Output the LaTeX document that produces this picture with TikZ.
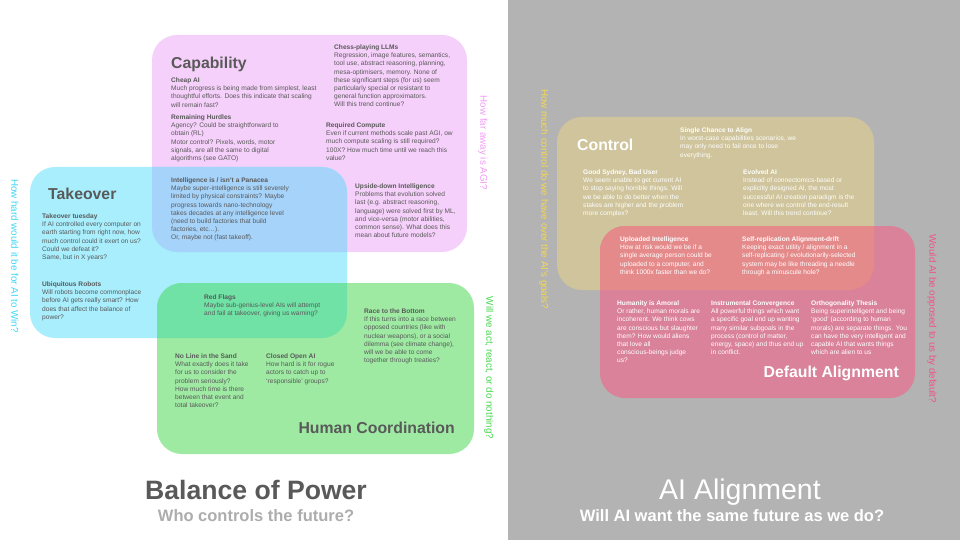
\documentclass[tikz,border=0pt]{standalone}
\usepackage{fontspec}
\setmainfont{Liberation Sans}
\definecolor{capc}{HTML}{F5D0FA}
\definecolor{tkc}{HTML}{A8EEFD}
\definecolor{tkcap}{HTML}{A6D3FA}
\definecolor{hcc}{HTML}{9EEAA3}
\definecolor{tkhc}{HTML}{70E2A6}
\definecolor{bgright}{HTML}{B3B3B3}
\definecolor{ctl}{HTML}{CFC49B}
\definecolor{dal}{HTML}{D9829A}
\definecolor{ctldal}{HTML}{E58A8A}
\definecolor{txt}{HTML}{595959}
\definecolor{qpink}{HTML}{F09CF4}
\definecolor{qcyan}{HTML}{3CD7F5}
\definecolor{qgreen}{HTML}{48D84E}
\definecolor{qyellow}{HTML}{F6D84A}
\definecolor{qred}{HTML}{F0528A}
\definecolor{subgray}{HTML}{ADADAD}
\begin{document}
\begin{tikzpicture}[x=1pt,y=-1pt,
  blk/.style={anchor=north west, align=left, inner sep=0pt, font=\fontsize{6.6}{8.15}\selectfont, text=txt},
  wblk/.style={blk, text=white},
  ttl/.style={inner sep=0pt, font=\fontsize{15.8}{18}\selectfont\bfseries, text=txt},
  wttl/.style={ttl, text=white},
  qlab/.style={rotate=-90, inner sep=0pt, font=\fontsize{9.8}{11}\selectfont},
  box/.style={rounded corners=25pt}]
\useasboundingbox (0,0) rectangle (960,540);
\fill[white] (0,0) rectangle (508,540);
\fill[bgright] (508,0) rectangle (960,540);
% left boxes
\fill[capc, box] (152,35) rectangle (467,252);
\fill[tkc, box] (30,167) rectangle (347,338);
\fill[hcc, box] (157,283) rectangle (474,454);
\begin{scope}
  \clip[box] (152,35) rectangle (467,252);
  \fill[tkcap, box] (30,167) rectangle (347,338);
\end{scope}
\begin{scope}
  \clip[box] (157,283) rectangle (474,454);
  \fill[tkhc, box] (30,167) rectangle (347,338);
\end{scope}
% right boxes
\fill[ctl, box] (557,117) rectangle (874,290);
\fill[dal, box] (600,226) rectangle (915,398);
\begin{scope}
  \clip[box] (557,117) rectangle (874,290);
  \fill[ctldal, box] (600,226) rectangle (915,398);
\end{scope}
% titles
\node[ttl, anchor=base west] (tcap) at (171,68.6) {Capability};
\node[ttl, anchor=base west] (ttk) at (48,199.6) {Takeover};
\node[ttl, anchor=base east] (thc) at (455,433.6) {Human Coordination};
\node[wttl, anchor=base west] (tctl) at (577,150.6) {Control};
\node[wttl, anchor=base east] (tdal) at (899,377.6) {Default Alignment};
% left texts
\node[blk] (cheap) at (171,77.6) {\textbf{Cheap AI}\\Much progress is being made from simplest, least\\thoughtful efforts. Does this indicate that scaling\\will remain fast?};
\node[blk] (hurdles) at (171,114.6) {\textbf{Remaining Hurdles}\\Agency? Could be straightforward to\\obtain (RL)\\Motor control? Pixels, words, motor\\signals, are all the same to digital\\algorithms (see GATO)};
\node[blk] (chess) at (334,44.6) {\textbf{Chess-playing LLMs}\\Regression, image features, semantics,\\tool use, abstract reasoning, planning,\\mesa-optimisers, memory. None of\\these significant steps (for us) seem\\particularly special or resistant to\\general function approximators.\\Will this trend continue?};
\node[blk] (compute) at (326,122.6) {\textbf{Required Compute}\\Even if current methods scale past AGI, ow\\much compute scaling is still required?\\100X? How much time until we reach this\\value?};
\node[blk] (panacea) at (171,177.6) {\textbf{Intelligence is / isn't a Panacea}\\Maybe super-intelligence is still severely\\limited by physical constraints? Maybe\\progress towards nano-technology\\takes decades at any intelligence level\\(need to build factories that build\\factories, etc…).\\Or, maybe not (fast takeoff).};
\node[blk] (upside) at (355,183.6) {\textbf{Upside-down Intelligence}\\Problems that evolution solved\\last (e.g. abstract reasoning,\\language) were solved first by ML,\\and vice-versa (motor abilities,\\common sense). What does this\\mean about future models?};
\node[blk] (tuesday) at (42,213.6) {\textbf{Takeover tuesday}\\If AI controlled every computer on\\earth starting from right now, how\\much control could it exert on us?\\Could we defeat it?\\Same, but in X years?};
\node[blk] (robots) at (42,281.6) {\textbf{Ubiquitous Robots}\\Will robots become commonplace\\before AI gets really smart? How\\does that affect the balance of\\power?};
\node[blk] (redflags) at (204,294.6) {\textbf{Red Flags}\\Maybe sub-genius-level AIs will attempt\\and fail at takeover, giving us warning?};
\node[blk] (race) at (364,308.6) {\textbf{Race to the Bottom}\\If this turns into a race between\\opposed countries (like with\\nuclear weapons), or a social\\dilemma (see climate change),\\will we be able to come\\together through treaties?};
\node[blk] (noline) at (175,353.6) {\textbf{No Line in the Sand}\\What exactly does it take\\for us to consider the\\problem seriously?\\How much time is there\\between that event and\\total takeover?};
\node[blk] (closed) at (266,353.6) {\textbf{Closed Open AI}\\How hard is it for rogue\\actors to catch up to\\`responsible' groups?};
% right texts
\node[wblk] (single) at (680,127.6) {\textbf{Single Chance to Align}\\In worst-case capabilities scenarios, we\\may only need to fail once to lose\\everything.};
\node[wblk] (sydney) at (583,169.6) {\textbf{Good Sydney, Bad User}\\We seem unable to get current AI\\to stop saying horrible things. Will\\we be able to do better when the\\stakes are higher and the problem\\more complex?};
\node[wblk] (evolved) at (743,169.6) {\textbf{Evolved AI}\\Instead of connectomics-based or\\explicitly designed AI, the most\\successful AI creation paradigm is the\\one where we control the end-result\\least. Will this trend continue?};
\node[wblk] (uploaded) at (620,236.6) {\textbf{Uploaded Intelligence}\\How at risk would we be if a\\single average person could be\\uploaded to a computer, and\\think 1000x faster than we do?};
\node[wblk] (selfrep) at (742,236.6) {\textbf{Self-replication Alignment-drift}\\Keeping exact utility / alignment in a\\self-replicating / evolutionarily-selected\\system may be like threading a needle\\through a minuscule hole?};
\node[wblk] (amoral) at (617,300.6) {\textbf{Humanity is Amoral}\\Or rather, human morals are\\incoherent. We think cows\\are conscious but slaughter\\them? How would aliens\\that love all\\conscious-beings judge\\us?};
\node[wblk] (instr) at (711,300.6) {\textbf{Instrumental Convergence}\\All powerful things which want\\a specific goal end up wanting\\many similar subgoals in the\\process (control of matter,\\energy, space) and thus end up\\in conflict.};
\node[wblk] (ortho) at (811,300.6) {\textbf{Orthogonality Thesis}\\Being superintelligent and being\\`good' (according to human\\morals) are separate things. You\\can have the very intelligent and\\capable AI that wants things\\which are alien to us};
% vertical questions
\node[qlab, text=qcyan] (qwin) at (15,256) {How hard would it be for AI to Win?};
\node[qlab, text=qpink] (qagi) at (483,143) {How far away is AGI?};
\node[qlab, text=qgreen] (qact) at (489,368) {Will we act, react, or do nothing?};
\node[qlab, text=qyellow] (qgoals) at (544,199) {How much control do we have over the AI's goals?};
\node[qlab, text=qred] (qdef) at (932,319) {Would AI be opposed to us by default?};
% bottom titles
\node[inner sep=0pt, anchor=base, text=txt, font=\fontsize{26.6}{30}\selectfont\bfseries] (bop) at (256,499.5) {Balance of Power};
\node[inner sep=0pt, anchor=base, text=subgray, font=\fontsize{16.5}{19}\selectfont\bfseries] (who) at (256,521) {Who controls the future?};
\node[inner sep=0pt, anchor=base, text=white, font=\fontsize{28.5}{32}\selectfont] (aia) at (740,499.5) {AI Alignment};
\node[inner sep=0pt, anchor=base, text=white, font=\fontsize{16.5}{19}\selectfont\bfseries] (will) at (732,521) {Will AI want the same future as we do?};
\end{tikzpicture}
\end{document}
